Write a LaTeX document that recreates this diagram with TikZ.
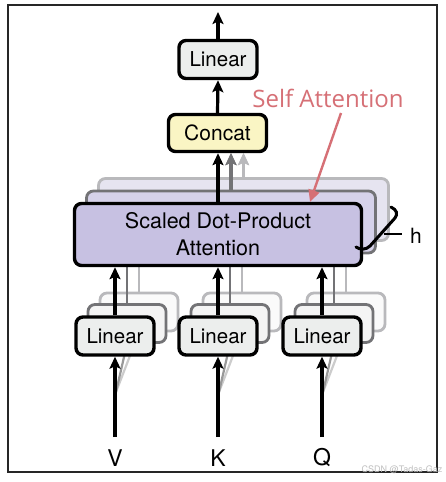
\documentclass[tikz,border=0pt]{standalone}
\usepackage{fontspec}
\setmainfont{TeX Gyre Heros}
\newfontfamily\safont{Open Sans}
\usetikzlibrary{arrows.meta}
\definecolor{attfill}{RGB}{199,193,226}
\definecolor{attfilltwo}{RGB}{214,210,234}
\definecolor{attfillthree}{RGB}{230,228,240}
\definecolor{linfill}{RGB}{236,238,237}
\definecolor{linfilltwo}{RGB}{244,244,244}
\definecolor{linfillthree}{RGB}{250,250,250}
\definecolor{concatfill}{RGB}{250,245,196}
\definecolor{sared}{RGB}{214,112,118}
\definecolor{midgray}{RGB}{115,115,118}
\definecolor{lightgray}{RGB}{185,185,188}
\tikzset{
  box/.style={draw, line width=3.4pt, rounded corners=7pt, inner sep=0pt, align=center},
  linbox/.style={box, fill=linfill, minimum width=78pt, minimum height=38pt, font=\fontsize{20.5}{24}\selectfont},
  linboxtwo/.style={box, draw=midgray, line width=2.8pt, fill=linfilltwo, minimum width=78pt, minimum height=38pt},
  linboxthree/.style={box, draw=lightgray, line width=2.8pt, fill=linfillthree, minimum width=78pt, minimum height=38pt},
  attbox/.style={box, fill=attfill, minimum width=287pt, minimum height=62pt, font=\fontsize{21.5}{27}\selectfont},
  attboxtwo/.style={box, draw=midgray, line width=2.8pt, fill=attfilltwo, minimum width=289pt, minimum height=62pt},
  attboxthree/.style={box, draw=lightgray, line width=2.8pt, fill=attfillthree, minimum width=290pt, minimum height=62pt},
  conn/.style={line width=3.2pt, -{Stealth[length=12pt,width=11pt,inset=2.5pt]}},
  connmid/.style={conn, draw=midgray},
  connlight/.style={conn, draw=lightgray},
  backline/.style={line width=2.8pt},
  lbl/.style={font=\fontsize{23}{27}\selectfont, inner sep=0pt}
}
\begin{document}
\begin{tikzpicture}[x=1pt,y=-1pt]
\useasboundingbox (0,0) rectangle (446,482);
\fill[white] (0,0) rectangle (446,482);
% outer frame
\draw[line width=2.8pt, black!85] (8,5) rectangle (437,472);

% attention stack
\node[attboxthree] (att3) at (243.5,209.5) {};
\node[attboxtwo] (att2) at (231,222) {};
\draw[connlight] (att3.north) -- (att3.north |- 0,153);
\draw[connmid] (att2.north) -- (att2.north |- 0,153);

% linear stacks (back layers)
\foreach \n/\x in {v/115, k/218, q/322} {
  \node[linboxthree] (\n3) at (\x+24,312) {};
  \node[linboxtwo] (\n2) at (\x+12,323.5) {};
  \draw[backline, draw=lightgray] (\n3.north) -- (\x+24,267);
  \draw[backline, draw=midgray] (\n2.north) -- (\x+12,267);
  \draw[line width=2.2pt, draw=black!20] (\x+1,392) -- (\n3.south);
  \draw[line width=2.2pt, draw=black!40] (\x+1,392) -- (\n2.south);
}

% main attention box
\node[attbox] (att) at (218,234.5) {Scaled Dot-Product\\Attention};

% front linear boxes and inputs
\foreach \n/\x/\lab in {v/115/V, k/218/K, q/322/Q} {
  \node[linbox] (\n1) at (\x,336) {Linear};
  \coordinate (\n in) at (\x,437);
  \node[lbl] (\n lab) at (\x,458) {\lab};
  \draw[conn] (\n in) -- (\n1.south);
  \draw[conn] (\n1.north) -- (\n1.north |- att.south);
}

% concat and output linear
\node[box, fill=concatfill, minimum width=98pt, minimum height=37pt, font=\fontsize{21}{24}\selectfont] (concat) at (217.5,133) {Concat};
\node[linbox] (lout) at (218,59.5) {Linear};
\coordinate (out) at (218,12);
\draw[conn] (att.north) -- (att.north |- concat.south);
\draw[connmid] (att2.north) -- (att2.north |- concat.south);
\draw[connlight] (att3.north) -- (att3.north |- concat.south);
\draw[conn] (concat.north) -- (lout.south);
\draw[conn] (lout.north) -- (out);

% h brace
\draw[line width=3pt, line cap=round] (391,207) .. controls (397,210) and (398,214) .. (395,218) -- (370,246) .. controls (366,250) and (360,250) .. (356,247);
\draw[line width=2.4pt] (384,234) -- (402,234);
\node[font=\fontsize{21}{24}\selectfont, inner sep=0pt] (h) at (416,236) {h};

% Self Attention annotation
\node[font=\safont\fontsize{24}{28}\selectfont, text=sared, inner sep=0pt] (sa) at (328,98) {Self Attention};
\coordinate (satip) at (310,202);
\draw[line width=2.4pt, draw=sared, -{Triangle[length=12pt,width=11pt]}] (341,113) -- (satip);

% watermark
\node[font=\fontsize{9}{10}\selectfont, text=black!25, inner sep=0pt] (wm) at (402,470) {CSDN @Tadas-Gaz};
\end{tikzpicture}
\end{document}
